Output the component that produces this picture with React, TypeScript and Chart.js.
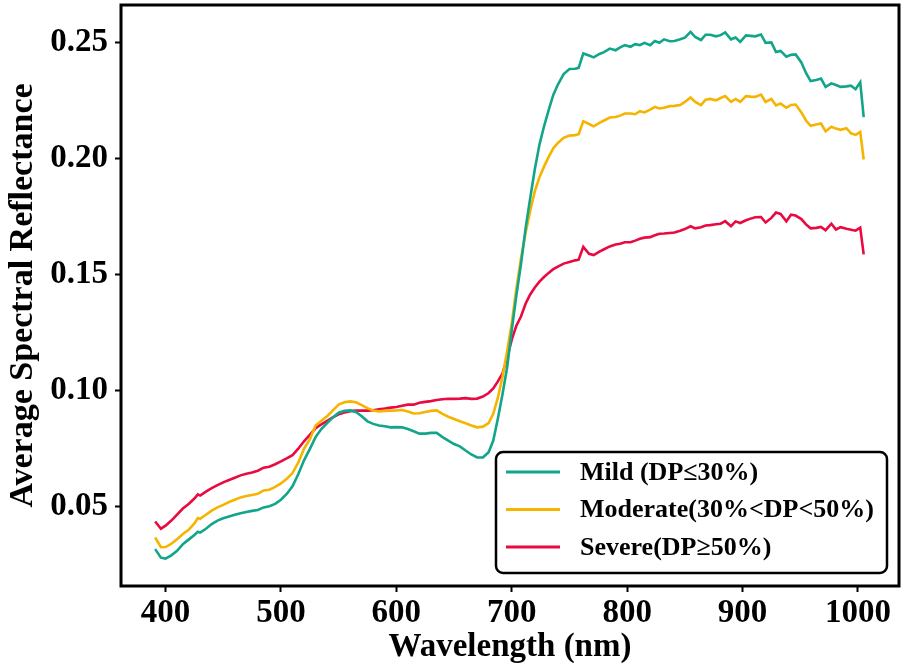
import React, { useEffect, useRef } from 'react';
import { Chart, registerables } from 'chart.js';

Chart.register(...registerables);

// wavelength grid (nm)
const wavelengths = [
  391, 396, 400, 405, 410, 415, 420, 425, 428, 430, 435, 440, 445, 450, 455, 460, 465, 470, 475, 480,
  485, 490, 495, 500, 505, 510, 515, 520, 525, 530, 535, 540, 545, 550, 555, 560, 565, 570, 575, 580,
  585, 590, 595, 600, 605, 610, 615, 620, 625, 630, 635, 640, 645, 650, 655, 660, 665, 670, 675, 680,
  684, 688, 692, 696, 700, 704, 708, 712, 716, 720, 724, 728, 732, 736, 740, 745, 750, 755, 758, 762,
  767, 771, 776, 780, 785, 790, 794, 798, 803, 807, 811, 815, 820, 824, 828, 832, 837, 841, 846, 850,
  855, 859, 864, 868, 872, 877, 881, 885, 890, 894, 898, 903, 907, 911, 916, 920, 925, 929, 933, 938,
  942, 946, 951, 955, 959, 964, 968, 972, 977, 981, 985, 990, 994, 998, 1002, 1005,
];

const mild = [
  0.0317, 0.0280, 0.0276, 0.0290, 0.0310, 0.0338, 0.0358, 0.0378, 0.0392, 0.0388, 0.0405, 0.0425, 0.0440, 0.0450, 0.0458, 0.0465, 0.0472, 0.0477, 0.0482, 0.0486,
  0.0497, 0.0502, 0.0512, 0.0530, 0.0555, 0.0588, 0.0640, 0.0700, 0.0748, 0.0800, 0.0835, 0.0860, 0.0885, 0.0905, 0.0913, 0.0915, 0.0908, 0.0890, 0.0868, 0.0857,
  0.0850, 0.0847, 0.0842, 0.0843, 0.0842, 0.0835, 0.0825, 0.0815, 0.0815, 0.0818, 0.0818, 0.0800, 0.0785, 0.0770, 0.0760, 0.0742, 0.0725, 0.0712, 0.0712, 0.0735,
  0.0785, 0.0880, 0.0985, 0.1100, 0.1260, 0.1410, 0.1545, 0.1700, 0.1830, 0.1955, 0.2060, 0.2140, 0.2210, 0.2275, 0.2320, 0.2365, 0.2387, 0.2388, 0.2392, 0.2454,
  0.2445, 0.2437, 0.2452, 0.2460, 0.2475, 0.2468, 0.2480, 0.2490, 0.2483, 0.2494, 0.2490, 0.2500, 0.2490, 0.2508, 0.2500, 0.2515, 0.2507, 0.2508, 0.2515, 0.2522,
  0.2547, 0.2525, 0.2512, 0.2535, 0.2535, 0.2528, 0.2533, 0.2545, 0.2515, 0.2523, 0.2504, 0.2532, 0.2530, 0.2528, 0.2536, 0.2500, 0.2502, 0.2460, 0.2465, 0.2440,
  0.2448, 0.2450, 0.2415, 0.2370, 0.2335, 0.2340, 0.2346, 0.2310, 0.2325, 0.2318, 0.2310, 0.2312, 0.2315, 0.2300, 0.2330, 0.2180,
];

const moderate = [
  0.0367, 0.0325, 0.0326, 0.0340, 0.0360, 0.0382, 0.0400, 0.0428, 0.0451, 0.0448, 0.0465, 0.0483, 0.0497, 0.0508, 0.0520, 0.0530, 0.0540, 0.0546, 0.0550, 0.0556,
  0.0570, 0.0573, 0.0585, 0.0600, 0.0620, 0.0645, 0.0690, 0.0750, 0.0790, 0.0850, 0.0870, 0.0890, 0.0915, 0.0940, 0.0950, 0.0954, 0.0950, 0.0938, 0.0925, 0.0915,
  0.0911, 0.0913, 0.0914, 0.0915, 0.0917, 0.0910, 0.0902, 0.0903, 0.0908, 0.0913, 0.0915, 0.0900, 0.0888, 0.0878, 0.0868, 0.0860, 0.0850, 0.0842, 0.0845, 0.0860,
  0.0900, 0.0970, 0.1060, 0.1170, 0.1290, 0.1440, 0.1570, 0.1680, 0.1775, 0.1860, 0.1920, 0.1966, 0.2008, 0.2045, 0.2068, 0.2090, 0.2100, 0.2102, 0.2106, 0.2162,
  0.2150, 0.2140, 0.2155, 0.2165, 0.2178, 0.2180, 0.2186, 0.2195, 0.2195, 0.2192, 0.2205, 0.2200, 0.2212, 0.2224, 0.2217, 0.2220, 0.2227, 0.2228, 0.2232, 0.2245,
  0.2264, 0.2245, 0.2231, 0.2255, 0.2258, 0.2252, 0.2262, 0.2270, 0.2245, 0.2258, 0.2245, 0.2270, 0.2268, 0.2267, 0.2277, 0.2245, 0.2258, 0.2230, 0.2238, 0.2220,
  0.2232, 0.2234, 0.2200, 0.2165, 0.2142, 0.2148, 0.2152, 0.2118, 0.2138, 0.2130, 0.2125, 0.2132, 0.2110, 0.2103, 0.2116, 0.1997,
];

const severe = [
  0.0436, 0.0405, 0.0418, 0.0440, 0.0466, 0.0492, 0.0512, 0.0535, 0.0553, 0.0548, 0.0565, 0.0580, 0.0593, 0.0605, 0.0615, 0.0625, 0.0635, 0.0642, 0.0647, 0.0655,
  0.0668, 0.0672, 0.0683, 0.0695, 0.0708, 0.0722, 0.0750, 0.0782, 0.0810, 0.0838, 0.0855, 0.0870, 0.0885, 0.0898, 0.0906, 0.0912, 0.0914, 0.0914, 0.0914, 0.0916,
  0.0920, 0.0923, 0.0927, 0.0930, 0.0935, 0.0940, 0.0940, 0.0948, 0.0952, 0.0955, 0.0960, 0.0963, 0.0965, 0.0965, 0.0966, 0.0968, 0.0965, 0.0966, 0.0975, 0.0990,
  0.1010, 0.1040, 0.1075, 0.1140, 0.1220, 0.1280, 0.1320, 0.1375, 0.1415, 0.1445, 0.1470, 0.1490, 0.1508, 0.1524, 0.1535, 0.1548, 0.1555, 0.1562, 0.1565, 0.1620,
  0.1590, 0.1585, 0.1600, 0.1610, 0.1622, 0.1630, 0.1634, 0.1640, 0.1640, 0.1647, 0.1655, 0.1660, 0.1662, 0.1670, 0.1677, 0.1678, 0.1680, 0.1682, 0.1690, 0.1697,
  0.1709, 0.1700, 0.1705, 0.1712, 0.1714, 0.1718, 0.1720, 0.1731, 0.1709, 0.1730, 0.1723, 0.1735, 0.1742, 0.1748, 0.1749, 0.1725, 0.1745, 0.1768, 0.1762, 0.1730,
  0.1759, 0.1755, 0.1740, 0.1717, 0.1700, 0.1702, 0.1706, 0.1692, 0.1720, 0.1695, 0.1705, 0.1698, 0.1694, 0.1690, 0.1703, 0.1588,
];

const seriesLabels = ['Mild (DP≤30%)', 'Moderate(30%<DP<50%)', 'Severe(DP≥50%)'];
const seriesColors = ['#11A58A', '#F5B400', '#E80A40'];
const xTicks = [400, 500, 600, 700, 800, 900, 1000];
const yTicks = [0.05, 0.1, 0.15, 0.2, 0.25];

const FONT = '"Liberation Serif", "Times New Roman", serif';

// black frame around the plot area
const framePlugin = {
  id: 'frame',
  afterDatasetsDraw(chart: any) {
    const { ctx, chartArea } = chart;
    ctx.save();
    ctx.strokeStyle = '#000';
    ctx.lineWidth = 3;
    ctx.strokeRect(chartArea.left, chartArea.top, chartArea.right - chartArea.left, chartArea.bottom - chartArea.top);
    ctx.restore();
  },
};

// legend drawn inside the plot, lower right
const boxLegendPlugin = {
  id: 'boxLegend',
  afterDraw(chart: any) {
    const { ctx, chartArea } = chart;
    const w = 391;
    const h = 121;
    const x = chartArea.right - 12 - w;
    const y = chartArea.bottom - 13 - h;
    ctx.save();
    ctx.beginPath();
    ctx.roundRect(x, y, w, h, 7);
    ctx.fillStyle = '#fff';
    ctx.fill();
    ctx.lineWidth = 2.5;
    ctx.strokeStyle = '#000';
    ctx.stroke();
    ctx.font = 'bold 26px ' + FONT;
    ctx.textBaseline = 'middle';
    ctx.textAlign = 'left';
    chart.data.datasets.forEach((ds: any, i: number) => {
      const ry = y + 20 + i * 37.5;
      ctx.beginPath();
      ctx.moveTo(x + 10, ry);
      ctx.lineTo(x + 64, ry);
      ctx.strokeStyle = ds.borderColor;
      ctx.lineWidth = 3;
      ctx.stroke();
      ctx.fillStyle = '#000';
      ctx.fillText(ds.label, x + 84, ry + 1);
    });
    ctx.restore();
  },
};

const App: React.FC = () => {
  const canvasRef = useRef<HTMLCanvasElement>(null);
  const chartRef = useRef<Chart | null>(null);

  useEffect(() => {
    if (!canvasRef.current) return;
    if (chartRef.current) chartRef.current.destroy();

    const series = [mild, moderate, severe];
    chartRef.current = new Chart(canvasRef.current, {
      type: 'line',
      data: {
        datasets: series.map((vals, i) => ({
          label: seriesLabels[i],
          data: wavelengths.map((w, j) => ({ x: w, y: vals[j] })),
          borderColor: seriesColors[i],
          backgroundColor: seriesColors[i],
          borderWidth: 2.6,
          pointRadius: 0,
          tension: 0,
          fill: false,
        })),
      },
      options: {
        animation: false,
        responsive: true,
        maintainAspectRatio: false,
        layout: { padding: { top: 5, right: 11, left: 0, bottom: 0 } },
        plugins: { legend: { display: false }, tooltip: { enabled: false } },
        scales: {
          x: {
            type: 'linear',
            min: 361.4,
            max: 1035.6,
            afterFit: (s: any) => {
              s.height = 85;
              s.paddingLeft = 0;
              s.paddingRight = 0;
            },
            afterBuildTicks: (s: any) => { s.ticks = xTicks.map((v) => ({ value: v })); },
            grid: { drawOnChartArea: false, drawTicks: true, tickLength: 6, tickWidth: 2, tickColor: '#000' },
            border: { display: false },
            ticks: {
              color: '#000',
              padding: 2,
              maxRotation: 0,
              font: { family: FONT, size: 33, weight: 'bold' },
              callback: (v: any) => String(v),
            },
            title: { display: true, text: 'Wavelength (nm)', color: '#000', padding: { top: 0, bottom: 4 }, font: { family: FONT, size: 33, weight: 'bold' } },
          },
          y: {
            type: 'linear',
            min: 0.0158,
            max: 0.2663,
            afterFit: (s: any) => {
              s.width = 121;
              s.paddingTop = 0;
              s.paddingBottom = 0;
            },
            afterBuildTicks: (s: any) => { s.ticks = yTicks.map((v) => ({ value: v })); },
            grid: { drawOnChartArea: false, drawTicks: true, tickLength: 6, tickWidth: 2, tickColor: '#000' },
            border: { display: false },
            ticks: {
              color: '#000',
              padding: 7,
              font: { family: FONT, size: 33, weight: 'bold' },
              callback: (v: any) => Number(v).toFixed(2),
            },
            title: { display: true, text: 'Average Spectral Reflectance', color: '#000', padding: { top: 3, bottom: 0 }, font: { family: FONT, size: 34, weight: 'bold' } },
          },
        },
      },
      plugins: [framePlugin, boxLegendPlugin],
    } as any);

    return () => {
      if (chartRef.current) {
        chartRef.current.destroy();
        chartRef.current = null;
      }
    };
  }, []);

  return (
    <div style={{ position: 'fixed', left: 0, top: 0, width: 910, height: 671, background: '#fff' }}>
      <canvas ref={canvasRef} />
    </div>
  );
};

export default App;
